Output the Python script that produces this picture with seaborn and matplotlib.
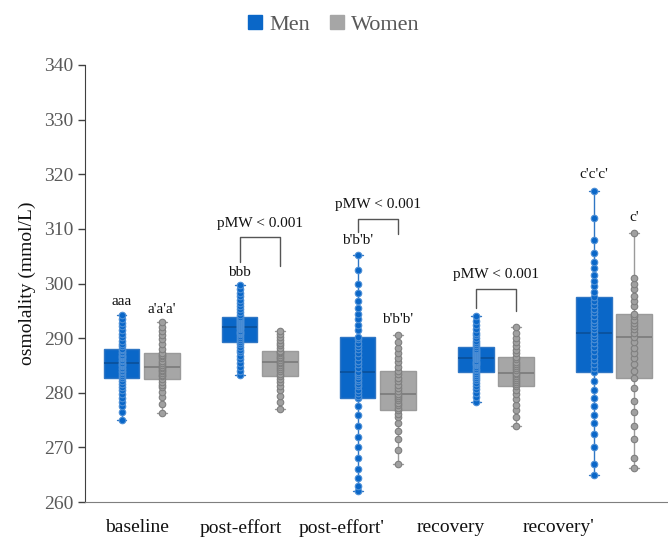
import numpy as np
import pandas as pd
import seaborn as sns
import matplotlib.pyplot as plt
from matplotlib.lines import Line2D

stages = ["baseline", "post-effort", "post-effort'", "recovery", "recovery'"]

# osmolality values (mmol/L)
men_baseline = [275.0, 276.5, 277.5, 278.3, 279.0, 279.8, 280.5, 281.0, 281.6, 282.2, 282.7,
                283.0, 283.4, 283.8, 284.0, 284.3, 284.6, 284.9, 285.1, 285.3, 285.5,
                285.8, 286.0, 286.3, 286.6, 286.8, 287.0, 287.3, 287.5, 287.8, 288.0,
                288.5, 289.0, 289.5, 290.2, 290.8, 291.5, 292.2, 292.8, 293.5, 294.3]
women_baseline = [276.3, 278.0, 279.3, 280.2, 281.0, 281.5, 282.0, 282.5,
                  283.0, 283.3, 283.7, 284.0, 284.2, 284.5, 284.7,
                  285.0, 285.5, 285.9, 286.3, 286.7, 287.0, 287.3,
                  288.0, 289.0, 289.8, 290.5, 291.3, 292.0, 293.0]
men_post = [283.3, 284.0, 284.8, 285.5, 286.2, 286.8, 287.4, 287.9, 288.4, 288.9, 289.3,
            289.7, 290.0, 290.4, 290.7, 291.0, 291.2, 291.4, 291.6, 291.8, 292.0,
            292.2, 292.4, 292.6, 292.8, 293.0, 293.2, 293.4, 293.5, 293.7, 293.8,
            294.3, 294.8, 295.3, 295.8, 296.4, 297.0, 297.7, 298.3, 299.0, 299.8]
women_post = [277.0, 278.3, 279.5, 280.5, 281.3, 282.0, 282.5, 283.0,
              283.5, 284.0, 284.4, 284.8, 285.1, 285.4, 285.7,
              286.0, 286.3, 286.6, 286.9, 287.2, 287.5, 287.7,
              288.2, 288.7, 289.2, 289.7, 290.2, 290.8, 291.3]
men_post2 = [262.0, 263.0, 264.5, 266.0, 268.0, 270.0, 272.0, 274.0, 276.0, 277.6, 279.0,
             279.5, 280.0, 280.6, 281.2, 281.7, 282.2, 282.6, 283.0, 283.4, 283.8,
             284.5, 285.2, 285.9, 286.6, 287.3, 288.0, 288.6, 289.2, 289.8, 290.3,
             291.5, 292.5, 293.5, 294.5, 295.5, 296.8, 298.2, 300.0, 302.5, 305.3]
women_post2 = [267.0, 269.5, 271.5, 273.0, 274.5, 275.5, 276.2, 276.8,
               277.3, 277.8, 278.2, 278.6, 279.0, 279.4, 279.8,
               280.3, 280.9, 281.5, 282.1, 282.7, 283.4, 284.0,
               284.8, 285.6, 286.4, 287.3, 288.2, 289.3, 290.5]
men_rec = [278.3, 279.2, 280.0, 280.7, 281.3, 281.8, 282.3, 282.7, 283.0, 283.4, 283.8,
           284.1, 284.4, 284.7, 285.0, 285.3, 285.5, 285.7, 285.9, 286.1, 286.3,
           286.5, 286.7, 286.9, 287.1, 287.3, 287.5, 287.7, 287.9, 288.1, 288.3,
           288.7, 289.1, 289.5, 290.0, 290.5, 291.0, 291.7, 292.4, 293.2, 294.0]
women_rec = [274.0, 275.5, 276.8, 277.8, 278.8, 279.7, 280.5, 281.3,
             281.7, 282.0, 282.4, 282.7, 283.0, 283.4, 283.7,
             284.1, 284.5, 284.9, 285.3, 285.7, 286.1, 286.5,
             287.2, 287.9, 288.6, 289.3, 290.1, 291.0, 292.0]
men_rec2 = [265.0, 267.0, 270.0, 272.5, 274.5, 276.0, 277.5, 279.0, 280.5, 282.2, 283.8,
            284.5, 285.2, 286.0, 286.8, 287.6, 288.4, 289.1, 289.8, 290.4, 291.0,
            291.6, 292.2, 292.8, 293.4, 294.0, 294.7, 295.4, 296.1, 296.8, 297.5,
            298.5, 299.5, 300.5, 301.5, 302.8, 304.0, 305.5, 308.0, 312.0, 317.0]
women_rec2 = [266.3, 268.0, 271.5, 274.0, 276.5, 278.5, 280.8, 282.8,
              284.0, 285.2, 286.3, 287.3, 288.2, 289.3, 290.3,
              291.0, 291.6, 292.2, 292.8, 293.4, 294.0, 294.5,
              295.8, 296.8, 297.8, 299.0, 300.0, 301.0, 309.3]

men_values = [men_baseline, men_post, men_post2, men_rec, men_rec2]
women_values = [women_baseline, women_post, women_post2, women_rec, women_rec2]

# significance letters above each box
men_letters = ["aaa", "bbb", "b'b'b'", "", "c'c'c'"]
men_letter_y = [296.8, 302.0, 307.8, None, 320.0]
women_letters = ["a'a'a'", "", "b'b'b'", "", "c'"]
women_letter_y = [295.3, None, 293.5, None, 312.0]

# Mann-Whitney brackets: stage index, top, men leg end, women leg end, text y
brackets = [(1, 308.5, 304.0, 303.2, 311.0),
            (2, 311.8, 309.5, 309.0, 314.4),
            (3, 299.0, 295.5, 295.0, 301.7)]

rows = []
for stage, m, w in zip(stages, men_values, women_values):
    rows += [(stage, "Men", v) for v in m]
    rows += [(stage, "Women", v) for v in w]
df = pd.DataFrame(rows, columns=["stage", "sex", "value"])

blue = "#0a67c8"
gray = "#a6a6a6"
styles = {"Men": dict(face=blue, line="#2f76c4", med="#0b4f99", pt=blue, ptedge="#4d8fd6"),
          "Women": dict(face=gray, line="#9a9a9a", med="#7a7a7a", pt="#a0a0a0", ptedge="#7f7f7f")}

sns.set_style("white")
plt.rcParams["font.family"] = ["Liberation Serif", "DejaVu Serif"]

fig = plt.figure(figsize=(6.68, 5.37), dpi=100)
ax = fig.add_axes([0.127, 0.065, 0.873, 0.814])

off = 0.17
for sex in ["Men", "Women"]:
    st = styles[sex]
    sub = df[df["sex"] == sex]
    sns.boxplot(data=sub, x="stage", y="value", hue="sex", order=stages,
                hue_order=["Men", "Women"], palette={"Men": blue, "Women": gray},
                dodge=True, whis=(0, 100), width=0.68, gap=0.12, fliersize=0,
                linewidth=1, linecolor=st["line"], legend=False, ax=ax,
                boxprops=dict(facecolor=st["face"], edgecolor=st["line"], zorder=2),
                medianprops=dict(color=st["med"], linewidth=1.2, zorder=3),
                whiskerprops=dict(color=st["line"], zorder=1.5),
                capprops=dict(color=st["line"], zorder=1.5))
    sign = -1 if sex == "Men" else 1
    values = men_values if sex == "Men" else women_values
    for i, vals in enumerate(values):
        ax.scatter(np.full(len(vals), i + sign * off), vals, s=22,
                   facecolor=st["pt"], edgecolor=st["ptedge"], linewidth=0.8, zorder=4)

# narrower whisker caps
for ln in ax.lines:
    xd, yd = np.asarray(ln.get_xdata(), float), np.asarray(ln.get_ydata(), float)
    if len(xd) == 2 and yd[0] == yd[1] and 0 < abs(xd[1] - xd[0]) < 0.22:
        c = xd.mean()
        ln.set_xdata([c - 0.04, c + 0.04])

# letters
for i in range(len(stages)):
    if men_letters[i]:
        ax.text(i - off, men_letter_y[i], men_letters[i], ha="center", va="center",
                fontsize=11, color="#111111")
    if women_letters[i]:
        ax.text(i + off, women_letter_y[i], women_letters[i], ha="center", va="center",
                fontsize=11, color="#111111")

for i, top, lm, lw, ty in brackets:
    ax.plot([i - off, i - off, i + off, i + off], [lm, top, top, lw],
            color="#555555", linewidth=1, zorder=5)
    ax.text(i, ty, "pMW < 0.001", ha="center", va="center", fontsize=11, color="#111111")

ax.set_ylim(260, 340)
ax.set_yticks(np.arange(260, 341, 10))
ax.set_xlim(-0.483, 4.458)
ax.set_xticks([-0.04, 0.84, 1.69, 2.62, 3.53])
ax.set_xticklabels(stages, fontsize=14, color="#111111")
ax.tick_params(axis="x", length=0, pad=12)
ax.tick_params(axis="y", length=5, width=1, color="#404040", labelsize=14,
               labelcolor="#595959", direction="out", left=True, pad=3)
ax.set_xlabel("")
ax.set_ylabel("osmolality (mmol/L)", fontsize=14, color="#111111", labelpad=6)

for s in ["top", "right"]:
    ax.spines[s].set_visible(False)
ax.spines["left"].set_color("#404040")
ax.spines["bottom"].set_color("#7f7f7f")

handles = [Line2D([], [], marker="s", linestyle="", markersize=10, color=blue),
           Line2D([], [], marker="s", linestyle="", markersize=10, color=gray)]
leg = fig.legend(handles=handles, labels=["Men", "Women"], loc="upper center",
                 bbox_to_anchor=(0.497, 1.01), ncol=2, frameon=False, fontsize=16,
                 handletextpad=0.15, columnspacing=0.7, handlelength=1.0)
for t in leg.get_texts():
    t.set_color("#595959")

fig.savefig("out.png", dpi=100)
